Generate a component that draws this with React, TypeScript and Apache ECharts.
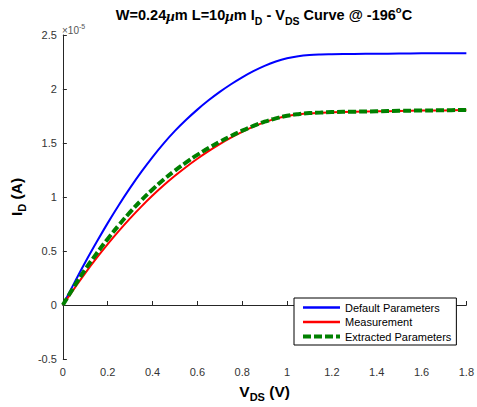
import React, { useEffect, useRef } from "react";
import * as echarts from "echarts";

const vds = [0, 0.05, 0.1, 0.15, 0.2, 0.25, 0.3, 0.35, 0.4, 0.45, 0.5, 0.55, 0.6, 0.65, 0.7, 0.75, 0.8, 0.85, 0.9, 0.95, 1.0, 1.05, 1.1, 1.15, 1.2, 1.3, 1.4, 1.5, 1.6, 1.7, 1.8];
const defaultParams = [0, 0.2, 0.395, 0.58, 0.758, 0.926, 1.084, 1.232, 1.37, 1.497, 1.612, 1.715, 1.809, 1.895, 1.973, 2.044, 2.108, 2.165, 2.214, 2.254, 2.284, 2.304, 2.315, 2.32, 2.322, 2.325, 2.326, 2.328, 2.33, 2.331, 2.332];
const measurement = [0, 0.15, 0.295, 0.433, 0.563, 0.686, 0.802, 0.911, 1.013, 1.108, 1.196, 1.278, 1.354, 1.424, 1.489, 1.549, 1.603, 1.651, 1.693, 1.726, 1.75, 1.765, 1.775, 1.78, 1.784, 1.789, 1.793, 1.797, 1.8, 1.802, 1.805];
const extracted = [0, 0.17, 0.33, 0.475, 0.612, 0.74, 0.86, 0.97, 1.07, 1.162, 1.245, 1.32, 1.39, 1.453, 1.511, 1.565, 1.614, 1.658, 1.697, 1.728, 1.752, 1.767, 1.777, 1.782, 1.786, 1.79, 1.794, 1.798, 1.801, 1.803, 1.806];

const seriesNames = ["Default Parameters", "Measurement", "Extracted Parameters"];
const xTicks = { min: 0, max: 1.8, interval: 0.2 };
const yTicks = { min: -0.5, max: 2.5, interval: 0.5 };

const pairs = (ys: number[]) => vds.map((x, i) => [x, ys[i]]);

export default function App() {
  const ref = useRef<HTMLDivElement>(null);
  useEffect(() => {
    if (!ref.current) return;
    const chart = echarts.init(ref.current, undefined, { renderer: "svg" });
    const axisColor = "#262626";
    const font = "Liberation Sans, Arial, Helvetica, sans-serif";
    const bold = { fontFamily: font, fontSize: 14.5, fontWeight: "bold" as const, color: "#000", lineHeight: 22 };
    const sub = { fontFamily: font, fontSize: 10.5, fontWeight: "bold" as const, color: "#000", lineHeight: 10, verticalAlign: "bottom" as const };
    const sup = { fontFamily: font, fontSize: 9.5, fontWeight: "bold" as const, color: "#000", lineHeight: 9, verticalAlign: "top" as const };
    const mu = { fontFamily: "Liberation Serif, serif", fontSize: 15.5, fontStyle: "italic" as const, color: "#000", lineHeight: 22 };
    const nameB = { fontFamily: font, fontSize: 15.5, fontWeight: "bold" as const, color: "#000", lineHeight: 22 };
    const nameSub = { fontFamily: font, fontSize: 11, fontWeight: "bold" as const, color: "#000", lineHeight: 10, verticalAlign: "bottom" as const };
    const lineSeries = (name: string, ys: number[], color: string, width: number, type: any) => ({
      name,
      type: "line",
      data: pairs(ys),
      showSymbol: false,
      symbol: "none",
      smooth: 0.4,
      lineStyle: { color, width, type },
      itemStyle: { color },
    });
    chart.setOption({
      animation: false,
      backgroundColor: "#fff",
      title: {
        text: "{b|W=0.24}{mu|μ}{b|m L=10}{mu|μ}{b|m I}{sub|D}{b| - V}{sub|DS}{b| Curve @ -196}{sup|o}{b|C}",
        left: 264,
        top: 4,
        padding: 0,
        textAlign: "center",
        textStyle: { rich: { b: bold, sub, sup, mu } },
      },
      graphic: [
        {
          type: "text",
          left: 62,
          top: 23,
          style: {
            text: "{a|×10}{s|-5}",
            rich: {
              a: { fontFamily: font, fontSize: 10, fill: "#555", lineHeight: 12, verticalAlign: "bottom" },
              s: { fontFamily: font, fontSize: 7, fill: "#555", lineHeight: 7, verticalAlign: "top" },
            },
          },
        },
      ],
      legend: {
        data: [
          { name: seriesNames[0], lineStyle: { width: 2.5, color: "#0000ff", type: "solid" } },
          { name: seriesNames[1], lineStyle: { width: 2.5, color: "#ff0000", type: "solid" } },
          { name: seriesNames[2], lineStyle: { width: 4, color: "#008000", type: [8, 3] } },
        ],
        orient: "vertical",
        left: 294,
        top: 298,
        padding: [4, 5, 3, 7],
        itemGap: 3.5,
        itemWidth: 37,
        itemHeight: 12,
        backgroundColor: "#fff",
        borderColor: "#000",
        borderWidth: 1,
        itemStyle: { color: "transparent", borderWidth: 0, opacity: 0 },
        textStyle: { fontFamily: font, fontSize: 11, color: "#000" },
      },
      grid: { left: 61, top: 35, width: 407.5, height: 327, containLabel: false },
      xAxis: {
        type: "value",
        min: xTicks.min,
        max: xTicks.max,
        interval: xTicks.interval,
        name: "{b|V}{sub|DS}{b| (V)}",
        nameLocation: "middle",
        nameGap: 21,
        nameTextStyle: { verticalAlign: "top", rich: { b: nameB, sub: nameSub } },
        axisLine: { show: true, lineStyle: { color: axisColor, width: 1 } },
        axisTick: { show: true, inside: true, length: 4, lineStyle: { color: axisColor } },
        axisLabel: { margin: 7, fontFamily: font, fontSize: 11, color: "#333", formatter: (v: number) => String(parseFloat(v.toFixed(1))) },
        splitLine: { show: false },
      },
      yAxis: {
        type: "value",
        min: yTicks.min,
        max: yTicks.max,
        interval: yTicks.interval,
        name: "{b|I}{sub|D}{b| (A)}",
        nameLocation: "middle",
        nameGap: 33,
        nameRotate: 90,
        nameTextStyle: { rich: { b: nameB, sub: nameSub } },
        axisLine: { show: true, onZero: false, lineStyle: { color: axisColor, width: 1 } },
        axisTick: { show: true, inside: true, length: 4, lineStyle: { color: axisColor } },
        axisLabel: { margin: 6, fontFamily: font, fontSize: 11, color: "#333", formatter: (v: number) => String(parseFloat(v.toFixed(1))) },
        splitLine: { show: false },
      },
      series: [
        lineSeries(seriesNames[0], defaultParams, "#0000ff", 2, "solid"),
        lineSeries(seriesNames[1], measurement, "#ff0000", 2, "solid"),
        lineSeries(seriesNames[2], extracted, "#008000", 4, [8, 3]),
      ],
    });
    return () => chart.dispose();
  }, []);
  return <div ref={ref} style={{ width: 477, height: 407, position: "absolute", left: 0, top: 0 }} />;
}
